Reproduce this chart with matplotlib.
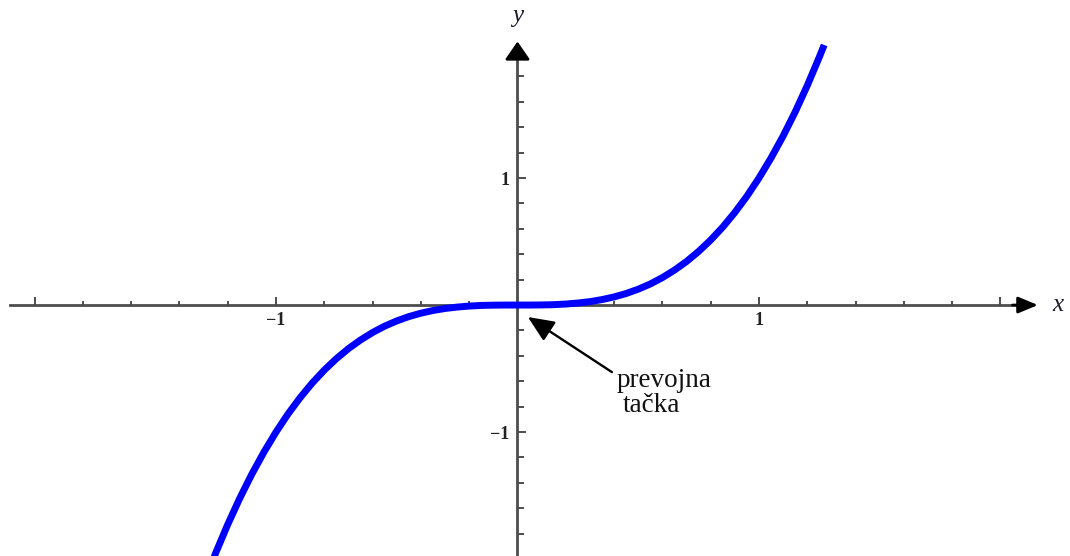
import matplotlib
matplotlib.use("Agg")
import matplotlib.pyplot as plt
from matplotlib.ticker import FixedLocator, FixedFormatter

# Sampled points of the curve
x_vals = [-1.27, -1.25, -1.20, -1.15, -1.10, -1.05, -1.00, -0.95, -0.90, -0.85,
          -0.80, -0.75, -0.70, -0.65, -0.60, -0.55, -0.50, -0.45, -0.40, -0.35,
          -0.30, -0.25, -0.20, -0.15, -0.10, -0.05, 0.00, 0.05, 0.10, 0.15,
          0.20, 0.25, 0.30, 0.35, 0.40, 0.45, 0.50, 0.55, 0.60, 0.65,
          0.70, 0.75, 0.80, 0.85, 0.90, 0.95, 1.00, 1.05, 1.10, 1.15,
          1.20, 1.25, 1.27]
y_vals = [-2.048, -1.953, -1.728, -1.521, -1.331, -1.158, -1.000, -0.857, -0.729, -0.614,
          -0.512, -0.422, -0.343, -0.275, -0.216, -0.166, -0.125, -0.091, -0.064, -0.043,
          -0.027, -0.016, -0.008, -0.003, -0.001, 0.000, 0.000, 0.000, 0.001, 0.003,
          0.008, 0.016, 0.027, 0.043, 0.064, 0.091, 0.125, 0.166, 0.216, 0.275,
          0.343, 0.422, 0.512, 0.614, 0.729, 0.857, 1.000, 1.158, 1.331, 1.521,
          1.728, 1.953, 2.048]

x_major = [-2, -1, 1, 2]
x_major_labels = ["", "\u22121", "1", ""]
x_minor = [-1.8, -1.6, -1.4, -1.2, -0.8, -0.6, -0.4, -0.2,
           0.2, 0.4, 0.6, 0.8, 1.2, 1.4, 1.6, 1.8]
y_major = [-1, 1]
y_major_labels = ["\u22121", "1"]
y_minor = [-1.8, -1.6, -1.4, -1.2, -0.8, -0.6, -0.4, -0.2,
           0.2, 0.4, 0.6, 0.8, 1.2, 1.4, 1.6, 1.8]

point_label_1 = "prevojna"
point_label_2 = "tačka"

axis_color = "#4d4d4d"
serif = ["Liberation Serif", "DejaVu Serif"]

fig = plt.figure(figsize=(10.70, 5.56), dpi=100)
ax = fig.add_axes([0, 0, 1, 1])
ax.set_xlim(-2.143, 2.288)
ax.set_ylim(-1.976, 2.402)

# Axes through the origin
for side in ("top", "right"):
    ax.spines[side].set_visible(False)
ax.spines["left"].set_position(("data", 0))
ax.spines["bottom"].set_position(("data", 0))
ax.spines["bottom"].set_bounds(-2.10, 2.10)
ax.spines["left"].set_bounds(-1.976, 2.00)
for side in ("left", "bottom"):
    ax.spines[side].set_color(axis_color)
    ax.spines[side].set_linewidth(2.0)

ax.xaxis.set_major_locator(FixedLocator(x_major))
ax.xaxis.set_major_formatter(FixedFormatter(x_major_labels))
ax.xaxis.set_minor_locator(FixedLocator(x_minor))
ax.yaxis.set_major_locator(FixedLocator(y_major))
ax.yaxis.set_major_formatter(FixedFormatter(y_major_labels))
ax.yaxis.set_minor_locator(FixedLocator(y_minor))

ax.tick_params(axis="x", which="major", direction="in", length=5.5, width=1.4,
               color=axis_color, pad=5, labelsize=13, labelcolor="#222222")
ax.tick_params(axis="x", which="minor", direction="in", length=3, width=1.4,
               color=axis_color)
ax.tick_params(axis="y", which="major", direction="in", length=6.5, width=1.4,
               color=axis_color, pad=6, labelsize=13, labelcolor="#222222")
ax.tick_params(axis="y", which="minor", direction="in", length=5, width=1.4,
               color=axis_color)
for lab in ax.get_xticklabels() + ax.get_yticklabels():
    lab.set_family(serif)
    lab.set_weight("bold")

# Arrowheads at the positive ends of the axes
ax.annotate("", xy=(2.155, 0), xytext=(2.05, 0),
            arrowprops=dict(arrowstyle="-|>,head_length=0.6,head_width=0.25",
                            color="black", lw=2.0, mutation_scale=20,
                            shrinkA=0, shrinkB=0))
ax.annotate("", xy=(0, 2.075), xytext=(0, 1.95),
            arrowprops=dict(arrowstyle="-|>,head_length=0.55,head_width=0.38",
                            color="black", lw=2.0, mutation_scale=20,
                            shrinkA=0, shrinkB=0))

ax.text(2.215, 0.0, "x", family=serif, style="italic", fontsize=18,
        ha="left", va="center", color="#1a1a2a")
ax.text(0.0, 2.19, "y", family=serif, style="italic", fontsize=18,
        ha="center", va="bottom", color="#1a1a2a")

# The curve
ax.plot(x_vals, y_vals, color="#0000ff", lw=5.0, solid_capstyle="butt",
        zorder=3, clip_on=True)

# Inflection point callout
ax.annotate("", xy=(0.043, -0.094), xytext=(0.391, -0.528),
            arrowprops=dict(arrowstyle="-|>,head_length=0.8,head_width=0.35",
                            color="black", lw=1.7, mutation_scale=20,
                            shrinkA=0, shrinkB=0), zorder=4)
ax.text(0.410, -0.646, point_label_1, family=serif, fontsize=19.5,
        ha="left", va="baseline", color="#111111")
ax.text(0.435, -0.843, point_label_2, family=serif, fontsize=19.5,
        ha="left", va="baseline", color="#111111")

fig.savefig("out.png", dpi=100, facecolor="white")
